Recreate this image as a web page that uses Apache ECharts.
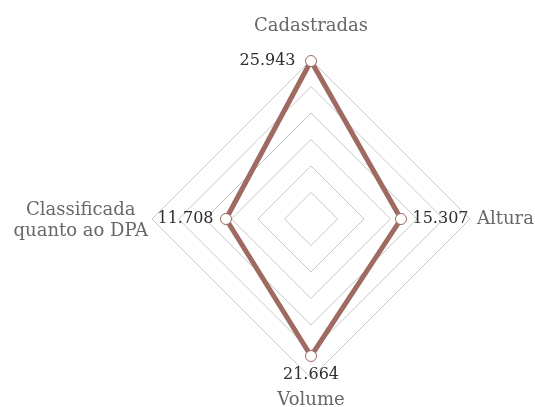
<!DOCTYPE html>
<html>
<head>
<meta charset="utf-8">
<script src="https://cdn.jsdelivr.net/npm/echarts@6/dist/echarts.min.js"></script>
<style>
  html, body { margin: 0; padding: 0; background: #ffffff; }
  #chart { width: 535px; height: 407px; }
</style>
</head>
<body>
<div id="chart"></div>
<script>
// Radar axes, in drawing order (top, left, bottom, right)
const indicatorNames = ['Cadastradas', 'Classificada\nquanto ao DPA', 'Volume', 'Altura'];
const indicatorMax = [26110, 21900, 25140, 27040];
// Number of dams per axis
const barragens = [25943, 11708, 21664, 15307];
// Where each value label sits around its point
const labelPositions = ['left', 'left', 'bottom', 'right'];
const labelDistances = [10, 7, 5, 6];

const SERIF = '"DejaVu Serif", "Liberation Serif", serif';
const LINE_COLOR = '#9e6a62';
const NAME_COLOR = '#686868';

function formatBR(n) {
  return String(n).replace(/\B(?=(\d{3})+(?!\d))/g, '.');
}

// Rich-text style keys for each axis name line
const nameStyles = [['top'], ['left1', 'left2'], ['bottom'], ['right']];

const chart = echarts.init(document.getElementById('chart'), null, { renderer: 'canvas' });

const nameBase = { fontFamily: SERIF, fontSize: 18, color: NAME_COLOR };

const option = {
  backgroundColor: '#ffffff',
  animation: false,
  radar: {
    center: [311, 219],
    radius: 159,
    startAngle: 90,
    splitNumber: 6,
    shape: 'polygon',
    indicator: indicatorNames.map((name, i) => ({ name: name, min: 0, max: indicatorMax[i] })),
    nameGap: 4,
    axisName: {
      fontFamily: SERIF,
      fontSize: 18,
      color: NAME_COLOR,
      formatter: function (name) {
        const keys = nameStyles[indicatorNames.indexOf(name)];
        return name.split('\n').map((line, j) => '{' + keys[j] + '|' + line + '}').join('\n');
      },
      rich: {
        top: Object.assign({ padding: [0, 0, 21, 0] }, nameBase),
        left1: Object.assign({ align: 'center', lineHeight: 25, padding: [8, 0, 0, 0] }, nameBase),
        left2: Object.assign({ align: 'center', lineHeight: 25 }, nameBase),
        bottom: Object.assign({ padding: [9, 0, 0, 0] }, nameBase),
        right: Object.assign({ padding: [0, 0, 0, 3] }, nameBase)
      }
    },
    axisLine: { show: false },
    axisTick: { show: false },
    axisLabel: { show: false },
    splitArea: { show: false },
    splitLine: { lineStyle: { color: '#c8c8c8', width: 1 } }
  },
  series: [
    {
      name: 'Barragens',
      type: 'radar',
      symbol: 'circle',
      symbolSize: 11,
      lineStyle: { color: LINE_COLOR, width: 5 },
      itemStyle: { color: '#ffffff', borderColor: LINE_COLOR, borderWidth: 1 },
      label: { show: false },
      z: 2,
      data: [{ value: barragens }]
    },
    {
      // Value labels: one item per axis, each showing only its own value
      name: 'Rótulos',
      type: 'radar',
      symbol: 'circle',
      symbolSize: 11,
      silent: true,
      lineStyle: { width: 0, color: 'rgba(0,0,0,0)' },
      itemStyle: { color: 'rgba(0,0,0,0)', borderWidth: 0 },
      z: 3,
      data: barragens.map((v, i) => ({
        value: barragens,
        label: {
          show: true,
          position: labelPositions[i],
          distance: labelDistances[i],
          fontFamily: SERIF,
          fontSize: 16,
          color: '#2e2e2e',
          formatter: function (p) {
            const d = p.dimensionIndex;
            if (d != null) return d === i ? formatBR(barragens[i]) : '';
            return p.value === barragens[i] ? formatBR(barragens[i]) : '';
          }
        }
      }))
    }
  ]
};

chart.setOption(option);
</script>
</body>
</html>
